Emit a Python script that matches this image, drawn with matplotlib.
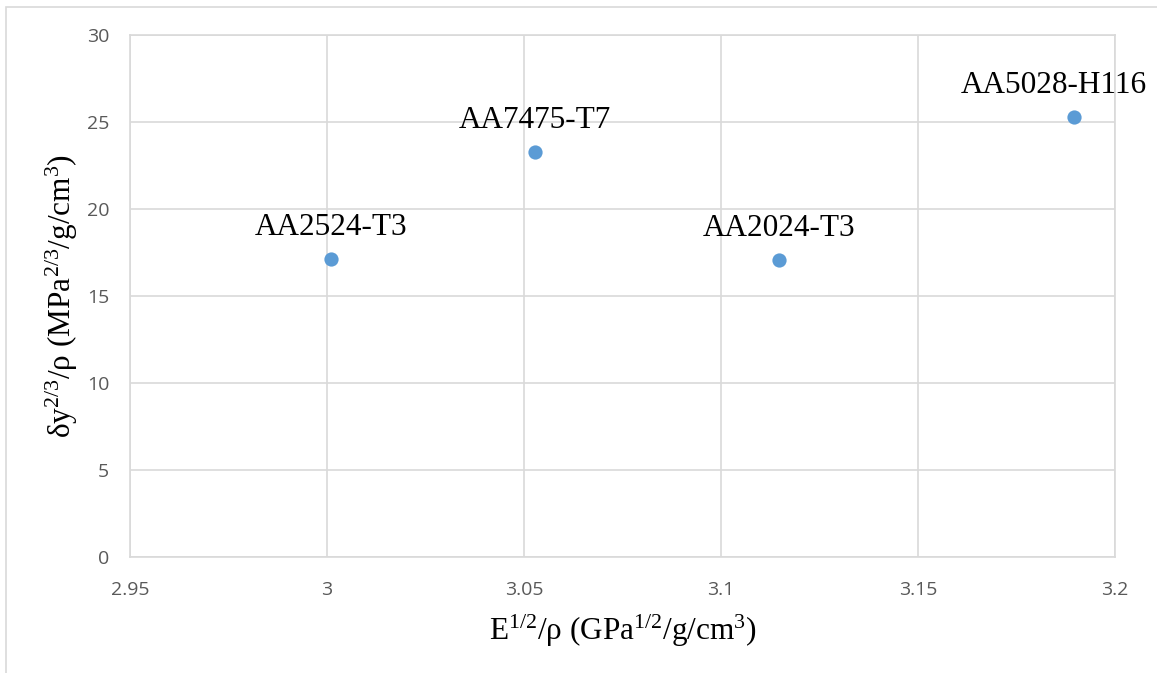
import matplotlib.pyplot as plt
from matplotlib.patches import Rectangle

plt.rcParams['mathtext.fontset'] = 'custom'
plt.rcParams['mathtext.rm'] = 'Liberation Serif'
plt.rcParams['mathtext.it'] = 'Liberation Serif:italic'

# data
alloys = ['AA2524-T3', 'AA7475-T7', 'AA2024-T3', 'AA5028-H116']
e_rho = [3.001, 3.0528, 3.1147, 3.1896]
sy_rho = [17.13, 23.28, 17.07, 25.29]

x_ticks = [2.95, 3.0, 3.05, 3.1, 3.15, 3.2]
x_tick_labels = ['2.95', '3', '3.05', '3.1', '3.15', '3.2']
y_ticks = [0, 5, 10, 15, 20, 25, 30]

grid_col = '#D9D9D9'
tick_col = '#595959'

fig = plt.figure(figsize=(11.57, 6.73), dpi=100)
ax = fig.add_axes([130 / 1157, 1 - 557 / 673, 985 / 1157, 522 / 673])

# outer chart border
fig.patches.append(Rectangle((6 / 1157, -0.05), 1.2, 1 - 7 / 673 + 0.05,
                             transform=fig.transFigure, fill=False,
                             edgecolor=grid_col, lw=1.2))

ax.scatter(e_rho, sy_rho, s=105, color='#5B9BD5', zorder=3, linewidths=0)

for name, x, y in zip(alloys, e_rho, sy_rho):
    dx = -20 if name == 'AA5028-H116' else 0
    ax.annotate(name, (x, y), xytext=(dx, 24), textcoords='offset pixels',
                ha='center', va='baseline', fontsize=22.5,
                family='Liberation Serif', color='black')

ax.set_xlim(2.95, 3.2)
ax.set_ylim(0, 30)
ax.set_xticks(x_ticks)
ax.set_xticklabels(x_tick_labels)
ax.set_yticks(y_ticks)
ax.grid(True, color=grid_col, lw=1.2)
ax.set_axisbelow(True)
for s in ax.spines.values():
    s.set_color(grid_col)
    s.set_linewidth(1.2)
ax.tick_params(length=0, colors=tick_col, labelsize=14)
ax.tick_params(axis='x', pad=17)
ax.tick_params(axis='y', pad=15)
for lbl in ax.get_xticklabels() + ax.get_yticklabels():
    lbl.set_family('Open Sans')

ax.set_xlabel(r'E$^{\mathrm{1/2}}$/ρ (GPa$^{\mathrm{1/2}}$/g/cm$^{\mathrm{3}}$)',
              family='Liberation Serif', fontsize=22.5)
ax.set_ylabel(r'δy$^{\mathrm{2/3}}$/ρ (MPa$^{\mathrm{2/3}}$/g/cm$^{\mathrm{3}}$)',
              family='Liberation Serif', fontsize=22.5)
ax.xaxis.set_label_coords(0.5, -83 / 522)
ax.xaxis.label.set_va('baseline')
ax.yaxis.set_label_coords(-68 / 985, 0.5)
ax.yaxis.label.set_va('center')

fig.savefig('out.png', dpi=100)
